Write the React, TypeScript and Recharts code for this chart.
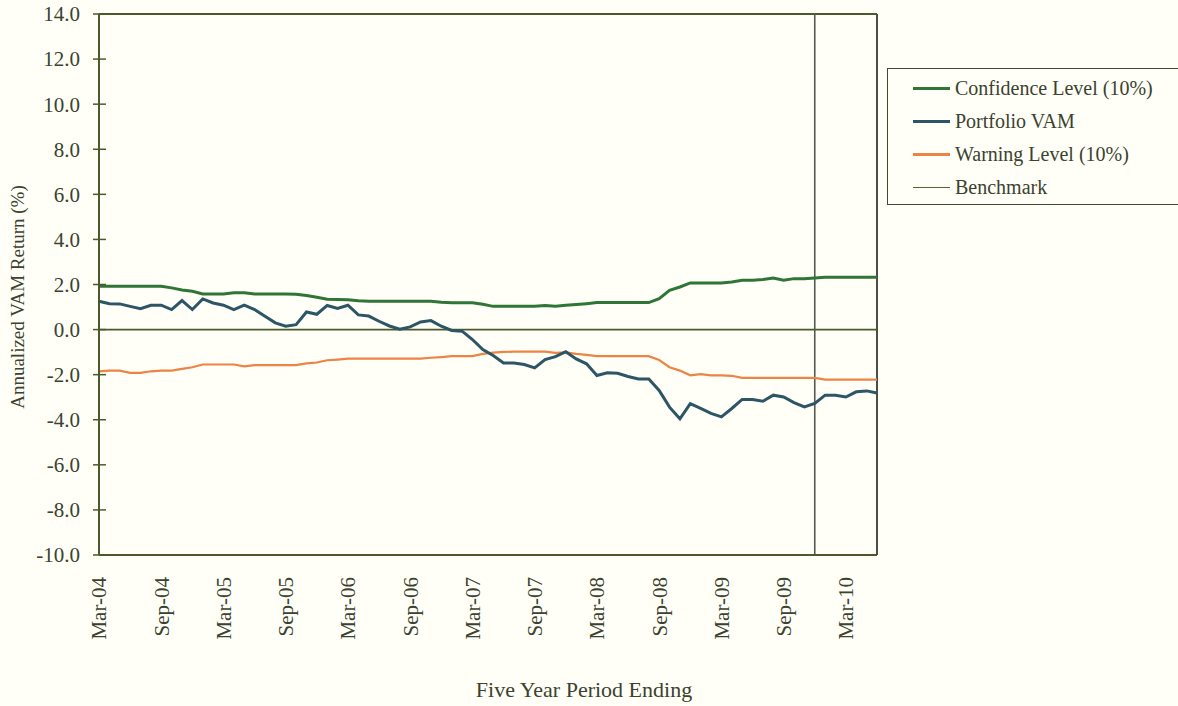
import { Legend, Line, LineChart, ReferenceLine, XAxis, YAxis } from "recharts";

const months = [
  "Mar-04", "Apr-04", "May-04", "Jun-04", "Jul-04", "Aug-04", "Sep-04", "Oct-04", "Nov-04", "Dec-04",
  "Jan-05", "Feb-05", "Mar-05", "Apr-05", "May-05", "Jun-05", "Jul-05", "Aug-05", "Sep-05", "Oct-05", "Nov-05", "Dec-05",
  "Jan-06", "Feb-06", "Mar-06", "Apr-06", "May-06", "Jun-06", "Jul-06", "Aug-06", "Sep-06", "Oct-06", "Nov-06", "Dec-06",
  "Jan-07", "Feb-07", "Mar-07", "Apr-07", "May-07", "Jun-07", "Jul-07", "Aug-07", "Sep-07", "Oct-07", "Nov-07", "Dec-07",
  "Jan-08", "Feb-08", "Mar-08", "Apr-08", "May-08", "Jun-08", "Jul-08", "Aug-08", "Sep-08", "Oct-08", "Nov-08", "Dec-08",
  "Jan-09", "Feb-09", "Mar-09", "Apr-09", "May-09", "Jun-09", "Jul-09", "Aug-09", "Sep-09", "Oct-09", "Nov-09", "Dec-09",
  "Jan-10", "Feb-10", "Mar-10", "Apr-10", "May-10", "Jun-10",
];

const tickLabels = [
  "Mar-04", "Sep-04", "Mar-05", "Sep-05", "Mar-06", "Sep-06", "Mar-07",
  "Sep-07", "Mar-08", "Sep-08", "Mar-09", "Sep-09", "Mar-10",
];

const confidence = [
  1.92, 1.92, 1.92, 1.92, 1.92, 1.92, 1.92, 1.85, 1.76, 1.7, 1.58, 1.58,
  1.58, 1.63, 1.63, 1.58, 1.58, 1.58, 1.58, 1.57, 1.51, 1.43, 1.35, 1.33,
  1.32, 1.28, 1.26, 1.26, 1.26, 1.26, 1.26, 1.26, 1.26, 1.21, 1.19, 1.19,
  1.19, 1.12, 1.03, 1.03, 1.03, 1.03, 1.03, 1.07, 1.03, 1.08, 1.11, 1.15,
  1.2, 1.2, 1.2, 1.2, 1.2, 1.2, 1.37, 1.74, 1.89, 2.07, 2.07, 2.07,
  2.07, 2.11, 2.19, 2.19, 2.22, 2.29, 2.19, 2.26, 2.26, 2.29, 2.32, 2.32,
  2.32, 2.32, 2.32, 2.32,
];

const portfolio = [
  1.26, 1.15, 1.14, 1.03, 0.93, 1.08, 1.08, 0.89, 1.29, 0.89, 1.36, 1.18,
  1.08, 0.89, 1.08, 0.89, 0.59, 0.3, 0.15, 0.22, 0.78, 0.68, 1.07, 0.94,
  1.08, 0.65, 0.6, 0.37, 0.16, 0.02, 0.12, 0.34, 0.4, 0.15, -0.04, -0.07,
  -0.44, -0.89, -1.15, -1.48, -1.48, -1.55, -1.7, -1.33, -1.2, -0.98, -1.3, -1.52,
  -2.04, -1.92, -1.94, -2.08, -2.19, -2.19, -2.7, -3.44, -3.96, -3.29, -3.5, -3.72,
  -3.87, -3.5, -3.1, -3.1, -3.18, -2.91, -2.99, -3.24, -3.43, -3.28, -2.91, -2.91,
  -2.99, -2.76, -2.72, -2.81,
];

const warning = [
  -1.85, -1.82, -1.82, -1.92, -1.92, -1.85, -1.82, -1.82, -1.74, -1.67, -1.55, -1.55,
  -1.55, -1.55, -1.63, -1.58, -1.58, -1.58, -1.58, -1.58, -1.5, -1.46, -1.36, -1.33,
  -1.29, -1.29, -1.29, -1.29, -1.29, -1.29, -1.29, -1.29, -1.25, -1.22, -1.18, -1.18,
  -1.18, -1.08, -1.02, -0.99, -0.98, -0.98, -0.98, -0.98, -1.03, -1.01, -1.08, -1.12,
  -1.18, -1.18, -1.18, -1.18, -1.18, -1.18, -1.35, -1.67, -1.82, -2.03, -1.98, -2.03,
  -2.03, -2.05, -2.14, -2.14, -2.14, -2.14, -2.14, -2.14, -2.14, -2.14, -2.22, -2.22,
  -2.22, -2.22, -2.22, -2.22,
];

const yTicks = [-10, -8, -6, -4, -2, 0, 2, 4, 6, 8, 10, 12, 14];
const benchmarkValue = 0;
const markerMonth = "Dec-09";

const FONT = "'Liberation Serif', 'Times New Roman', serif";
const TEXT = "#3a4230";
const AXIS = "#4b5a2c";

const legendItems = [
  { name: "Confidence Level (10%)", color: "#2f7536", width: 3 },
  { name: "Portfolio VAM", color: "#2c5566", width: 3 },
  { name: "Warning Level (10%)", color: "#ec8444", width: 2.5 },
  { name: "Benchmark", color: "#55652f", width: 1.5 },
];

const data = months.map((m, i) => ({
  month: m,
  confidence: confidence[i],
  portfolio: portfolio[i],
  warning: warning[i],
}));

const YTick = ({ x, y, payload }: any) => (
  <g>
    <line x1={x + 13} x2={x + 26} y1={y} y2={y} stroke={AXIS} strokeWidth={1.5} />
    <text x={x} y={y} dy="0.35em" textAnchor="end" fontSize={21} fill={TEXT} fontFamily={FONT}>
      {Number(payload.value).toFixed(1)}
    </text>
  </g>
);

const XTick = ({ x, y, payload }: any) => (
  <text
    x={x}
    y={y}
    dy="0.35em"
    textAnchor="end"
    transform={`rotate(-90, ${x}, ${y})`}
    fontSize={21}
    fill={TEXT}
    fontFamily={FONT}
  >
    {payload.value}
  </text>
);

const LegendBox = () => (
  <div
    style={{
      border: "1.5px solid #3f4a30",
      borderRight: "none",
      padding: "3px 0 0 0",
      height: 132,
      boxSizing: "content-box",
      fontFamily: FONT,
      fontSize: 20,
      color: TEXT,
    }}
  >
    {legendItems.map((it) => (
      <div key={it.name} style={{ display: "flex", alignItems: "center", height: 33, whiteSpace: "nowrap" }}>
        <span style={{ display: "inline-block", width: 37, height: it.width, background: it.color, marginLeft: 25, marginRight: 5 }} />
        <span>{it.name}</span>
      </div>
    ))}
  </div>
);

export default function App() {
  return (
    <div style={{ position: "absolute", left: 0, top: 0, width: 1178, height: 706, background: "#fffff7", overflow: "hidden" }}>
      <LineChart
        width={1178}
        height={706}
        data={data}
        margin={{ top: 14, right: 301, left: 19, bottom: 51 }}
      >
        <XAxis
          dataKey="month"
          ticks={tickLabels}
          interval={0}
          tick={<XTick />}
          tickLine={false}
          tickSize={0}
          tickMargin={22}
          height={100}
          axisLine={{ stroke: AXIS, strokeWidth: 2 }}
        />
        <YAxis
          domain={[-10, 14]}
          ticks={yTicks}
          tick={<YTick />}
          tickLine={false}
          tickSize={0}
          tickMargin={19}
          width={80}
          axisLine={{ stroke: AXIS, strokeWidth: 2 }}
        />
        <ReferenceLine y={14} stroke={AXIS} strokeWidth={2} />
        <ReferenceLine x="Jun-10" stroke="#4a4f44" strokeWidth={2} />
        <ReferenceLine y={benchmarkValue} stroke="#4a5a2c" strokeWidth={1.8} />
        <ReferenceLine x={markerMonth} stroke="#555a50" strokeWidth={1.6} />
        <Line type="linear" dataKey="warning" stroke="#ec8444" strokeWidth={2.2} dot={false} isAnimationActive={false} />
        <Line type="linear" dataKey="confidence" stroke="#2f7536" strokeWidth={3} dot={false} isAnimationActive={false} />
        <Line type="linear" dataKey="portfolio" stroke="#2c5566" strokeWidth={3} dot={false} isAnimationActive={false} />
        <Legend
          content={<LegendBox />}
          layout="horizontal"
          verticalAlign="middle"
          align="center"
          wrapperStyle={{ position: "absolute", left: 887, top: 68, width: 291, bottom: "auto", right: "auto" }}
        />
      </LineChart>
      <div
        style={{
          position: "absolute",
          left: 584,
          top: 690,
          transform: "translate(-50%, -50%)",
          fontFamily: FONT,
          fontSize: 22,
          color: TEXT,
          whiteSpace: "nowrap",
        }}
      >
        Five Year Period Ending
      </div>
      <div
        style={{
          position: "absolute",
          left: 18,
          top: 297,
          transform: "translate(-50%, -50%) rotate(-90deg)",
          fontFamily: FONT,
          fontSize: 19,
          color: TEXT,
          whiteSpace: "nowrap",
        }}
      >
        Annualized VAM Return (%)
      </div>
    </div>
  );
}
